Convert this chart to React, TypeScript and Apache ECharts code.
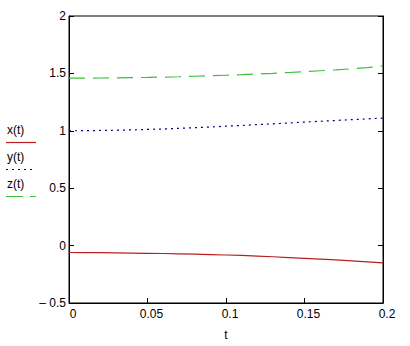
import React, { useEffect, useRef } from "react";
import * as echarts from "echarts";

const tValues = [0, 0.01, 0.02, 0.03, 0.04, 0.05, 0.06, 0.07, 0.08, 0.09, 0.1, 0.11, 0.12, 0.13, 0.14, 0.15, 0.16, 0.17, 0.18, 0.19, 0.2];
const xValues = [-0.060, -0.061, -0.062, -0.063, -0.065, -0.067, -0.069, -0.072, -0.075, -0.078, -0.082, -0.086, -0.091, -0.097, -0.104, -0.111, -0.118, -0.125, -0.133, -0.142, -0.151];
const yValues = [1.000, 1.001, 1.003, 1.005, 1.008, 1.012, 1.016, 1.021, 1.027, 1.033, 1.040, 1.047, 1.054, 1.061, 1.068, 1.076, 1.083, 1.090, 1.097, 1.104, 1.111];
const zValues = [1.458, 1.459, 1.460, 1.461, 1.463, 1.465, 1.468, 1.471, 1.475, 1.479, 1.484, 1.489, 1.495, 1.501, 1.508, 1.515, 1.523, 1.531, 1.540, 1.550, 1.565];
const legendNames = ["x(t)", "y(t)", "z(t)"];
const xAxisName = "t";

const FONT = "'Liberation Sans', Arial, sans-serif";
const RED = "#b82020";
const NAVY = "#000080";
const GREEN = "#3cc03c";

export default function App() {
  const ref = useRef<HTMLDivElement>(null);
  useEffect(() => {
    if (!ref.current) return;
    const chart = echarts.init(ref.current, null, { renderer: "svg" });
    const pair = (vals: number[]) => tValues.map((t, i) => [t, vals[i]]);
    const yFmt = (v: number) => (v < 0 ? "\u2013 " + String(-v) : String(v));
    chart.setOption({
      animation: false,
      backgroundColor: "#fff",
      textStyle: { fontFamily: FONT },
      grid: {
        left: 69,
        right: 27,
        top: 16,
        bottom: 42,
        show: true,
        borderColor: "#000",
        borderWidth: 1,
      },
      xAxis: {
        type: "value",
        min: 0,
        max: 0.2,
        interval: 0.05,
        name: xAxisName,
        nameLocation: "middle",
        nameGap: 26,
        nameTextStyle: { color: "#000", fontSize: 12, fontFamily: FONT },
        axisLine: { show: true, onZero: false, lineStyle: { color: "#000", width: 1 } },
        axisTick: { show: true, inside: true, length: 5, lineStyle: { color: "#000" } },
        axisLabel: {
          color: "#000",
          fontSize: 12,
          fontFamily: FONT,
          margin: 5,
          padding: [0, 0, 0, 8],
          formatter: (v: number) => String(v),
        },
        splitLine: { show: false },
      },
      yAxis: [
        {
          type: "value",
          min: -0.5,
          max: 2,
          interval: 0.5,
          axisLine: { show: true, onZero: false, lineStyle: { color: "#000", width: 1 } },
          axisTick: { show: true, inside: true, length: 5, lineStyle: { color: "#000" } },
          axisLabel: { color: "#000", fontSize: 12, fontFamily: FONT, margin: 3, formatter: yFmt },
          splitLine: { show: false },
        },
        {
          type: "value",
          position: "right",
          min: -0.5,
          max: 2,
          interval: 0.5,
          axisLine: { show: true, onZero: false, lineStyle: { color: "#000", width: 1 } },
          axisTick: { show: true, inside: true, length: 5, lineStyle: { color: "#000" } },
          axisLabel: { show: false },
          splitLine: { show: false },
        },
      ],
      series: [
        {
          name: legendNames[0],
          type: "line",
          data: pair(xValues),
          showSymbol: false,
          lineStyle: { color: RED, width: 1.2, type: "solid" },
          itemStyle: { color: RED },
        },
        {
          name: legendNames[1],
          type: "line",
          data: pair(yValues),
          showSymbol: false,
          lineStyle: { color: NAVY, width: 1.2, type: [2, 4] },
          itemStyle: { color: NAVY },
        },
        {
          name: legendNames[2],
          type: "line",
          data: pair(zValues),
          showSymbol: false,
          lineStyle: { color: GREEN, width: 1.2, type: [16, 8] },
          itemStyle: { color: GREEN },
        },
      ],
      graphic: [
        { type: "text", left: 7, top: 124, style: { text: legendNames[0], fill: "#000", font: `12px ${FONT}` } },
        { type: "line", shape: { x1: 6, y1: 142.5, x2: 36, y2: 142.5 }, style: { stroke: RED, lineWidth: 1.2 } },
        { type: "text", left: 7, top: 151, style: { text: legendNames[1], fill: "#000", font: `12px ${FONT}` } },
        { type: "line", shape: { x1: 6, y1: 169.5, x2: 33, y2: 169.5 }, style: { stroke: NAVY, lineWidth: 1.2, lineDash: [2, 4] } },
        { type: "text", left: 7, top: 178, style: { text: legendNames[2], fill: "#000", font: `12px ${FONT}` } },
        { type: "line", shape: { x1: 6, y1: 196.5, x2: 36, y2: 196.5 }, style: { stroke: GREEN, lineWidth: 1.2, lineDash: [17, 7] } },
      ],
    });
    return () => chart.dispose();
  }, []);
  return <div ref={ref} style={{ width: 410, height: 346, position: "absolute", left: 0, top: 0 }} />;
}
